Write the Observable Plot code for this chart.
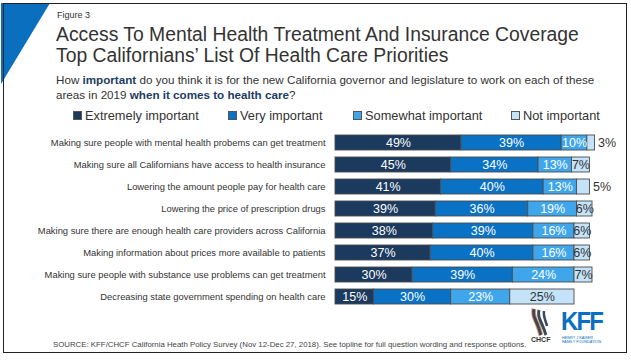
<!DOCTYPE html>
<html>
<head>
<meta charset="utf-8">
<script src="https://cdn.jsdelivr.net/npm/d3@7"></script>
<script src="https://cdn.jsdelivr.net/npm/@observablehq/plot@0.6"></script>
<style>
  html, body { margin: 0; padding: 0; background: #fff; }
  #wrap { position: relative; width: 631px; height: 361px; overflow: hidden; font-family: Arial, "Liberation Sans", sans-serif; color: #333; }
  #wrap > * { position: absolute; }
  .frame { left: 3px; top: 3px; width: 622px; height: 348px; border: 1.5px solid #222; }
  .t { white-space: nowrap; }
  .leg { display: flex; align-items: center; font-size: 12.8px; color: #333; }
  .sw { width: 7px; height: 7px; border: 1px solid #555; margin-right: 3px; }
  b.nv { color: #1d3d63; }
</style>
</head>
<body>
<div id="wrap">
  <svg style="left:0;top:0" width="60" height="90"><polygon points="1,3 50,3 1,84" fill="#0b6fbf"/></svg>
  <div class="frame"></div>
  <div class="t" style="left:57px;top:10px;font-size:9px;">Figure 3</div>
  <div class="t fit" data-w="523" style="left:56px;top:24px;font-size:19.5px;line-height:21px;color:#333;">Access To Mental Health Treatment And Insurance Coverage<br>Top Californians’ List Of Health Care Priorities</div>
  <div class="t fit" data-w="539" style="left:56px;top:73px;font-size:12.5px;line-height:14.5px;">How <b class="nv">important</b> do you think it is for the new California governor and legislature to work on each of these<br>areas in 2019 <b class="nv">when it comes to health care</b>?</div>
  <div id="legend"></div>
  <div id="chart" style="left:0;top:0;"></div>
  <div class="t fit" data-w="474" style="left:53px;top:340px;font-size:7.8px;color:#444;">SOURCE: KFF/CHCF California Heath Policy Survey (Nov 12-Dec 27, 2018). See topline for full question wording and response options.</div>
  <svg style="left:528px;top:306px" width="30" height="30">
    <path d="M6,3 C4,10 8,14 10,20 C12,25 12,27 13,29" stroke="#f0a070" stroke-width="5" fill="none"/>
    <path d="M6,3 C4,10 8,14 10,20 C12,25 12,27 13,29" stroke="#3a4a5c" stroke-width="3" fill="none"/>
    <path d="M11,4 C9,11 13,15 15,21 C17,25 17,27 18,29" stroke="#3a4a5c" stroke-width="3" fill="none"/>
    <path d="M16,5 C15,11 18,15 19,20" stroke="#3a4a5c" stroke-width="2.5" fill="none"/>
  </svg>
  <div class="t" style="left:531px;top:336px;font-size:7px;line-height:8px;font-weight:bold;color:#333;">CHCF</div>
  <div class="t" style="left:561px;top:311px;font-size:26px;line-height:20px;font-weight:bold;color:#0b6fbf;letter-spacing:-2px;transform:scaleX(0.92);transform-origin:left;">KFF</div>
  <div class="t" style="left:562px;top:336px;font-size:3.8px;line-height:4px;color:#0b6fbf;">HENRY J KAISER<br>FAMILY FOUNDATION</div>
</div>
<script>
const items = [
  "Making sure people with mental health probems can get treatment",
  "Making sure all Californians have access to health insurance",
  "Lowering the amount people pay for health care",
  "Lowering the price of prescription drugs",
  "Making sure there are enough health care providers across California",
  "Making information about prices more available to patients",
  "Making sure people with substance use problems can get treatment",
  "Decreasing state government spending on health care"
];
const cats = ["Extremely important", "Very important", "Somewhat important", "Not important"];
const colors = ["#1b3a5e", "#0a72c4", "#3fa6ec", "#c4e2f8"];
const labelColors = ["#fff", "#fff", "#fff", "#333"];
const extremely = [49, 45, 41, 39, 38, 37, 30, 15];
const very = [39, 34, 40, 36, 39, 40, 39, 30];
const somewhat = [10, 13, 13, 19, 16, 16, 24, 23];
const notImportant = [3, 7, 5, 6, 6, 6, 7, 25];

const series = [extremely, very, somewhat, notImportant];
const data = [];
items.forEach((item, i) => {
  series.forEach((vals, k) => data.push({item, cat: cats[k], value: vals[i]}));
});
const inside = data.filter(d => d.value >= 6);

const font = 'Arial, "Liberation Sans", sans-serif';
const stackOpts = {x: "value", y: "item", z: "cat", order: cats};

const chart = Plot.plot({
  width: 631,
  height: 361,
  marginLeft: 335,
  marginRight: 39,
  marginTop: 0,
  marginBottom: 0,
  style: {fontFamily: font, background: "transparent", color: "#333"},
  x: {domain: [0, 100], axis: null},
  y: {domain: items, range: [127.3, 311.5], padding: 0.33, label: null},
  color: {domain: cats, range: colors},
  marks: [
    Plot.axisY({tickSize: 0, tickPadding: 10, fontSize: 9.4, fill: "#333", label: null}),
    Plot.barX(data, Plot.stackX({...stackOpts, fill: "cat", stroke: "#4d4d4d", strokeWidth: 0.9})),
    Plot.text(inside, Plot.stackX({...stackOpts, text: d => d.value + "%", fill: d => labelColors[cats.indexOf(d.cat)], fontSize: 12.5})),
    Plot.text(data, Plot.stackX2({...stackOpts, text: d => d.value < 6 ? d.value + "%" : null, textAnchor: "start", dx: 3, fill: "#333", fontSize: 12.5}))
  ]
});
document.getElementById("chart").appendChild(chart);

// legend
const legendX = [73, 228, 353, 511];
const legend = document.getElementById("legend");
legend.style.left = "0px"; legend.style.top = "0px";
cats.forEach((c, k) => {
  const el = document.createElement("div");
  el.className = "leg";
  el.style.position = "absolute";
  el.style.left = legendX[k] + "px";
  el.style.top = "108px";
  el.innerHTML = `<span class="sw" style="background:${colors[k]}"></span><span class="t">${c}</span>`;
  legend.appendChild(el);
});

// fit text blocks to their measured widths in the reference
document.querySelectorAll(".fit").forEach(el => {
  const target = +el.dataset.w;
  const w = el.getBoundingClientRect().width;
  const fs = parseFloat(getComputedStyle(el).fontSize);
  el.style.fontSize = (fs * target / w).toFixed(2) + "px";
});
</script>
</body>
</html>
